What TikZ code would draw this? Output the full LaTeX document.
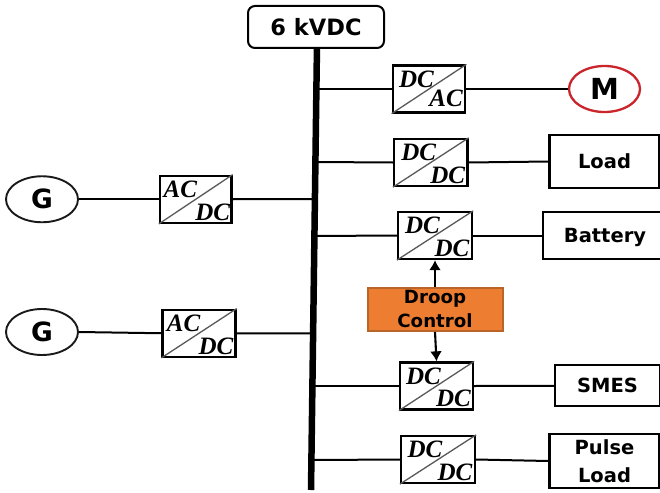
\documentclass[tikz,border=0pt]{standalone}
\usepackage{fontspec}
\setmainfont{DejaVu Sans}
\newfontfamily\convfont{Liberation Serif}
\usetikzlibrary{shapes.geometric,arrows.meta,calc}
\definecolor{droopfill}{HTML}{ED7D31}
\definecolor{droopedge}{HTML}{B9652A}
\definecolor{motorred}{HTML}{C9252B}
\tikzset{
  wire/.style={line width=2pt,black},
  busbar/.style={line width=6.5pt,black},
  convbox/.style={draw=black,line width=2.3pt,fill=white,rectangle,inner sep=0pt},
  diag/.style={line width=1.3pt,black!65},
  convtext/.style={font=\convfont\bfseries\itshape\fontsize{25}{25}\selectfont,inner sep=0pt,text=black},
  genellipse/.style={draw=black!90,line width=1.9pt,ellipse,fill=white,inner sep=0pt,minimum width=72pt,minimum height=46pt},
  loadbox/.style={draw=black,line width=2.3pt,fill=white,rectangle,inner sep=0pt,align=center,font=\bfseries\fontsize{19.5}{28}\selectfont,text=black},
  sig/.style={line width=2.1pt,black,-{Latex[length=10pt,width=12pt]}},
}
% name, centre x, centre y, width, upper text, lower text, upper dx, lower dy
\newcommand{\converter}[8]{%
  \node[convbox,minimum width=#4pt,minimum height=47pt] (#1) at (#2,#3) {};
  \draw[diag] (#1.south west) -- (#1.north east);
  \node[convtext] (#1u) at ($(#1.center)+(#7,-10)$) {#5};
  \node[convtext] (#1l) at ($(#1.center)+(17,#8)$) {#6};
}
\begin{document}
\begin{tikzpicture}[x=1pt,y=-1pt]
\useasboundingbox (0,0) rectangle (660,492);
\clip (0,0) rectangle (660,492);
% bus
\coordinate (bustop) at (317,44);
\coordinate (busend) at (311,490);
\coordinate (b1) at (315.7,89);
\coordinate (b2) at (315.2,162);
\coordinate (b3) at (314.7,236);
\coordinate (b4) at (313.4,386);
\coordinate (b5) at (312.8,460);
\coordinate (bg1) at (314,199);
\coordinate (bg2) at (312,333.5);
\draw[busbar] (bustop) -- (busend);
\node[draw=black,line width=2pt,rounded corners=7pt,fill=white,minimum width=136pt,minimum height=42pt,inner sep=0pt,font=\bfseries\fontsize{22.5}{24}\selectfont,text=black] (bus) at (316,27) {6 kVDC};
% converters
\converter{c1}{429}{89}{72.5}{DC}{AC}{-12.5}{9.5}
\converter{c2}{430.75}{162.5}{73.5}{DC}{DC}{-12}{12.5}
\converter{c3}{435}{235.5}{74}{DC}{DC}{-12.5}{12.5}
\converter{c4}{436.5}{386}{73}{DC}{DC}{-13}{12}
\converter{c5}{438}{459.5}{74}{DC}{DC}{-13}{13}
\converter{g1c}{195.75}{199.25}{71.5}{AC}{DC}{-15.5}{13.5}
\converter{g2c}{199}{333.25}{73}{AC}{DC}{-15.5}{13.5}
% sources and loads
\node[genellipse,font=\bfseries\fontsize{26.5}{27}\selectfont] (g1) at (42,199.25) {G};
\node[genellipse,font=\bfseries\fontsize{26.5}{27}\selectfont] (g2) at (42,332) {G};
\node[genellipse,draw=motorred,line width=2.3pt,font=\bfseries\fontsize{29}{29}\selectfont,minimum width=71pt] (m) at (604.5,89) {M};
\node[loadbox,minimum width=110pt,minimum height=53pt] (load) at (604.5,161.5) {Load};
\node[loadbox,minimum width=124pt,minimum height=47pt,text depth=0pt] (batt) at (605,235.5) {Battery};
\node[loadbox,minimum width=105pt,minimum height=41pt] (smes) at (607.5,385.75) {SMES};
\node[loadbox,minimum width=110pt,minimum height=54pt] (pulse) at (604.5,461) {Pulse\\Load};
\node[draw=droopedge,line width=2pt,fill=droopfill,minimum width=135pt,minimum height=43.5pt,inner sep=0pt,align=center,font=\bfseries\fontsize{18.2}{24}\selectfont,text=black] (droop) at (435,309.25) {Droop\\Control};
% connectors
\draw[wire] (b1) -- (c1.west);
\draw[wire] (c1.east) -- (m.west);
\draw[wire] (b2) -- (c2.west);
\draw[wire] (c2.east) -- (load.west);
\draw[wire] (b3) -- (c3.west);
\draw[wire] (c3.east) -- (batt.west);
\draw[wire] (b4) -- (c4.west);
\draw[wire] (c4.east) -- (smes.west);
\draw[wire] (b5) -- (c5.west);
\draw[wire] (c5.east) -- (pulse.west);
\draw[wire] (g1.east) -- (g1c.west);
\draw[wire] (g1c.east) -- (bg1);
\draw[wire] (g2.east) -- (g2c.west);
\draw[wire] (g2c.east) -- (bg2);
\draw[sig] (droop.north) -- (c3.south);
\draw[sig] (droop.south) -- (c4.north);
\end{tikzpicture}
\end{document}
